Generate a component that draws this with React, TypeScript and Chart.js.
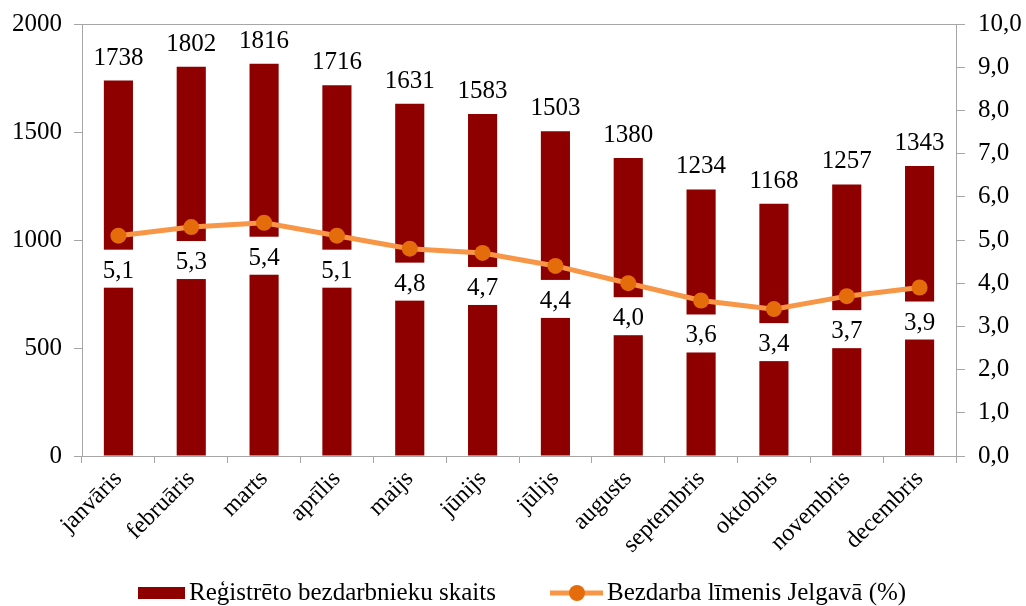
import React, { useEffect, useRef } from "react";
import { Chart, registerables } from "chart.js";

Chart.register(...registerables);

const months = [
  "janvāris", "februāris", "marts", "aprīlis", "maijs", "jūnijs",
  "jūlijs", "augusts", "septembris", "oktobris", "novembris", "decembris",
];
const registered = [1738, 1802, 1816, 1716, 1631, 1583, 1503, 1380, 1234, 1168, 1257, 1343];
const rate = [5.1, 5.3, 5.4, 5.1, 4.8, 4.7, 4.4, 4.0, 3.6, 3.4, 3.7, 3.9];
const barLabel = "Reģistrēto bezdarbnieku skaits";
const lineLabel = "Bezdarba līmenis Jelgavā (%)";

const FONT = '"Liberation Serif", "Times New Roman", serif';
const BAR_COLOR = "#8E0000";
const LINE_COLOR = "#F79646";
const POINT_COLOR = "#E46C0A";
const AXIS_COLOR = "#A6A6A6";

const fmt = (v: number) => v.toFixed(1).replace(".", ",");

const labelPlugin = {
  id: "valueLabels",
  afterDatasetsDraw(chart: any) {
    const ctx = chart.ctx;
    const barMeta = chart.getDatasetMeta(0);
    const lineMeta = chart.getDatasetMeta(1);
    ctx.save();
    ctx.font = `25px ${FONT}`;
    ctx.textAlign = "center";
    ctx.textBaseline = "alphabetic";
    barMeta.data.forEach((bar: any, i: number) => {
      ctx.fillStyle = "#000";
      ctx.fillText(String(registered[i]), bar.x, bar.y - 16);
    });
    lineMeta.data.forEach((pt: any, i: number) => {
      const bw = barMeta.data[i].width;
      ctx.fillStyle = "#fff";
      ctx.fillRect(pt.x - bw / 2 - 2, pt.y + 14, bw + 4, 38);
      ctx.fillStyle = "#000";
      ctx.fillText(fmt(rate[i]), pt.x, pt.y + 42);
    });
    const a = chart.chartArea;
    ctx.strokeStyle = AXIS_COLOR;
    ctx.lineWidth = 1;
    ctx.beginPath();
    ctx.moveTo(a.left, a.top + 0.5);
    ctx.lineTo(a.right, a.top + 0.5);
    ctx.stroke();
    ctx.restore();
  },
  afterDraw(chart: any) {
    const ctx = chart.ctx;
    ctx.save();
    ctx.font = `25px ${FONT}`;
    ctx.textBaseline = "middle";
    ctx.textAlign = "left";
    const y = 593;
    ctx.fillStyle = BAR_COLOR;
    ctx.fillRect(138, y - 6, 47, 12);
    ctx.fillStyle = "#000";
    ctx.fillText(barLabel, 189, y);
    const x = 550;
    ctx.strokeStyle = LINE_COLOR;
    ctx.lineWidth = 5;
    ctx.beginPath();
    ctx.moveTo(x, y);
    ctx.lineTo(x + 53, y);
    ctx.stroke();
    ctx.fillStyle = POINT_COLOR;
    ctx.beginPath();
    ctx.arc(x + 27, y, 8, 0, Math.PI * 2);
    ctx.fill();
    ctx.fillStyle = "#000";
    ctx.fillText(lineLabel, 607, y);
    ctx.restore();
  },
};

export default function App() {
  const ref = useRef<HTMLCanvasElement | null>(null);
  useEffect(() => {
    document.body.style.margin = "0";
    const canvas = ref.current;
    if (!canvas) return;
    const chart = new Chart(canvas, {
      type: "bar",
      data: {
        labels: months,
        datasets: [
          {
            type: "bar",
            label: barLabel,
            data: registered,
            backgroundColor: BAR_COLOR,
            yAxisID: "y",
            order: 2,
            barPercentage: 0.8,
            categoryPercentage: 0.5,
          },
          {
            type: "line",
            label: lineLabel,
            data: rate,
            borderColor: LINE_COLOR,
            borderWidth: 5,
            pointRadius: 8,
            pointBackgroundColor: POINT_COLOR,
            pointBorderColor: POINT_COLOR,
            pointBorderWidth: 0,
            yAxisID: "y1",
            order: 1,
            tension: 0,
          },
        ] as any,
      },
      options: {
        animation: false,
        responsive: false,
        maintainAspectRatio: false,
        layout: { padding: { top: 24, bottom: 50, left: 0, right: 0 } },
        plugins: { legend: { display: false }, tooltip: { enabled: false } },
        scales: {
          x: {
            offset: true,
            grid: {
              offset: true,
              drawOnChartArea: false,
              drawTicks: true,
              tickLength: 7,
              color: AXIS_COLOR,
            },
            border: { color: AXIS_COLOR },
            ticks: {
              color: "#000",
              font: { family: FONT, size: 24 },
              maxRotation: 45,
              minRotation: 45,
              autoSkip: false,
              padding: 2,
            },
            afterFit: (s: any) => {
              s.height = 100;
              s.paddingLeft = 0;
              s.paddingRight = 0;
            },
          },
          y: {
            position: "left",
            min: 0,
            max: 2000,
            ticks: {
              stepSize: 500,
              color: "#000",
              font: { family: FONT, size: 25 },
              padding: 12,
              callback: (v: any) => String(v),
            },
            grid: {
              drawOnChartArea: false,
              tickLength: 8,
              color: AXIS_COLOR,
            },
            border: { color: AXIS_COLOR },
            afterFit: (s: any) => {
              s.width = 82;
              s.paddingTop = 0;
              s.paddingBottom = 0;
            },
          },
          y1: {
            position: "right",
            min: 0,
            max: 10,
            ticks: {
              stepSize: 1,
              color: "#000",
              font: { family: FONT, size: 25 },
              padding: 13,
              callback: (v: any) => fmt(Number(v)),
            },
            grid: {
              drawOnChartArea: false,
              tickLength: 9,
              color: AXIS_COLOR,
            },
            border: { color: AXIS_COLOR },
            afterFit: (s: any) => {
              s.width = 70;
              s.paddingTop = 0;
              s.paddingBottom = 0;
            },
          },
        },
      } as any,
      plugins: [labelPlugin],
    });
    return () => chart.destroy();
  }, []);
  return (
    <div style={{ width: 1026, height: 606, background: "#fff" }}>
      <canvas ref={ref} width={1026} height={606} style={{ display: "block" }} />
    </div>
  );
}
